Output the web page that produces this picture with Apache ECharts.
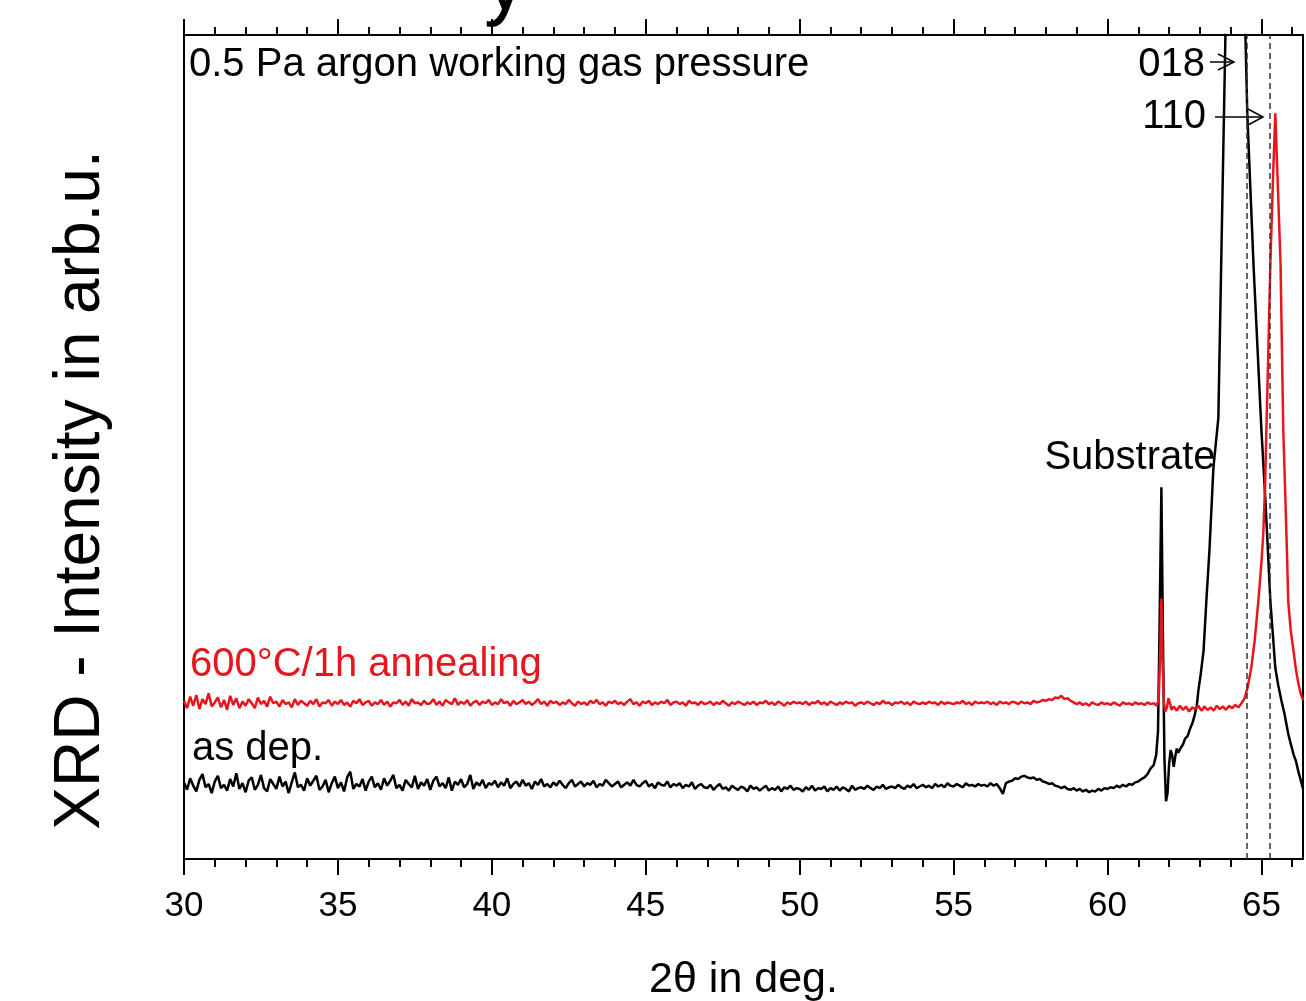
<!DOCTYPE html>
<html>
<head>
<meta charset="utf-8">
<script src="https://cdn.jsdelivr.net/npm/echarts@6/dist/echarts.min.js"></script>
<style>
  html, body { margin: 0; padding: 0; background: #fff; }
  #main { width: 1306px; height: 1001px; }
</style>
</head>
<body>
<div id="main"></div>
<script>
// x grid of the noisy baselines: 30.0 .. 61.4 deg, every 0.1 deg (one row = 1 deg)
var noiseStart = 30, noiseStep = 0.1;

// as deposited (black), baseline part
var asDepBase = [
  9.3, 8.4, 9.8, 8.9, 8.2, 9.6, 10.3, 8.7, 9.1, 8.0,
  9.4, 10.1, 8.6, 9.0, 8.3, 9.7, 8.8, 10.4, 8.5, 9.2,
  8.1, 9.5, 9.9, 8.4, 9.0, 10.2, 8.6, 8.2, 9.7, 9.1,
  8.5, 10.0, 8.8, 9.4, 8.0, 9.3, 10.5, 8.7, 9.0, 8.3,
  9.8, 8.9, 9.5, 10.1, 8.4, 8.8, 9.6, 8.1, 9.2, 10.0,
  8.6, 9.3, 8.2, 9.9, 10.6, 8.5, 9.1, 8.8, 9.7, 8.3,
  9.4, 10.0, 8.7, 9.2, 8.4, 9.8, 8.9, 9.5, 10.2, 8.6,
  9.0, 8.3, 9.6, 9.1, 8.7, 10.1, 8.5, 9.3, 8.9, 9.7,
  8.4, 9.5, 10.0, 8.8, 9.2, 8.6, 9.9, 8.3, 9.4, 9.0,
  9.7, 8.7, 9.1, 10.2, 8.5, 9.3, 8.9, 9.6, 8.6, 9.2,
  9.0, 9.5, 8.7, 9.3, 8.9, 9.8, 8.6, 9.1, 9.4, 8.8,
  9.6, 8.9, 9.2, 8.5, 9.4, 9.0, 9.7, 8.8, 9.1, 8.7,
  9.3, 8.9, 9.5, 9.0, 8.6, 9.2, 9.6, 8.8, 9.1, 9.4,
  8.8, 9.2, 9.0, 9.5, 8.7, 9.1, 8.9, 9.6, 9.2, 8.8,
  9.1, 9.4, 8.7, 9.0, 9.3, 8.9, 9.6, 9.0, 8.8, 9.2,
  9.5, 8.8, 9.1, 8.6, 9.3, 9.0, 8.9, 9.4, 8.7, 9.1,
  8.9, 9.2, 8.6, 9.0, 8.8, 9.3, 8.5, 8.9, 9.1, 8.7,
  8.6, 9.0, 8.4, 8.8, 9.1, 8.5, 8.7, 8.3, 8.9, 8.6,
  8.4, 8.8, 8.6, 8.2, 8.9, 8.5, 8.7, 8.3, 8.6, 8.9,
  8.3, 8.6, 8.4, 8.8, 8.2, 8.7, 8.5, 8.9, 8.4, 8.6,
  8.5, 8.2, 8.7, 8.4, 8.9, 8.3, 8.6, 8.5, 8.8, 8.2,
  8.6, 8.4, 8.8, 8.3, 8.7, 8.5, 8.2, 8.9, 8.4, 8.6,
  8.7, 8.5, 8.9, 8.6, 8.4, 8.8, 8.6, 9.0, 8.5, 8.7,
  8.8, 8.6, 9.0, 8.7, 8.5, 8.9, 8.7, 9.1, 8.6, 8.8,
  9.0, 8.7, 8.9, 8.6, 9.1, 8.8, 9.0, 8.7, 9.2, 8.9,
  8.8, 9.1, 8.9, 8.7, 9.2, 8.9, 9.0, 8.8, 9.1, 8.9,
  9.0, 8.8, 9.2, 8.9, 9.1, 8.6, 7.9, 9.2, 9.4, 9.5,
  9.8, 9.7, 10.0, 10.1, 9.9, 9.8, 9.9, 9.6, 9.7, 9.4,
  9.3, 9.1, 9.2, 8.9, 8.8, 8.6, 8.8, 8.5, 8.4, 8.6,
  8.3, 8.5, 8.2, 8.4, 8.1, 8.3, 8.2, 8.5, 8.3, 8.6,
  8.5, 8.7, 8.6, 8.9, 8.7, 9.0, 8.8, 9.1, 9.0, 9.3,
  9.4, 9.7, 9.9, 10.3, 11.0
];
// as deposited, substrate + 018 peak region [2theta, intensity]
var asDepPeak = [
  [61.5, 11.4], [61.58, 12.6], [61.64, 15.5], [61.69, 28], [61.75, 45.1], [61.8, 27],
  [61.85, 12], [61.9, 7.0], [61.95, 8.0], [62.0, 11.5], [62.05, 13.2], [62.1, 12.6],
  [62.15, 11.2], [62.2, 12.4], [62.25, 13.4], [62.3, 12.9], [62.38, 13.5], [62.45, 13.9],
  [62.52, 14.6], [62.6, 14.9], [62.68, 15.8], [62.75, 16.4], [62.82, 17.3], [62.9, 18.6],
  [62.95, 20.4], [63.03, 22.5], [63.12, 25.3], [63.21, 31.3], [63.31, 37.4], [63.44, 47.5],
  [63.6, 53.5], [63.83, 100], [64.02, 142], [64.48, 100], [64.54, 90.5], [64.74, 72.3],
  [65.0, 52.0], [65.13, 43.5], [65.29, 31.3], [65.38, 26.8], [65.45, 23.2], [65.55, 21.0],
  [65.65, 19.2], [65.75, 17.6], [65.87, 15.2], [65.95, 14.0], [66.05, 12.6], [66.12, 11.9],
  [66.2, 10.6], [66.28, 9.5], [66.35, 8.5]
];

// 600 C / 1 h annealing (red), baseline part
var annealBase = [
  19.2, 18.3, 19.7, 18.6, 19.9, 18.2, 19.4, 18.8, 20.1, 18.5,
  19.0, 19.6, 18.4, 19.3, 18.1, 19.8, 18.7, 19.5, 18.3, 19.1,
  18.6, 19.4, 18.9, 18.3, 19.6, 18.8, 19.2, 18.5, 19.7, 18.9,
  19.1, 18.5, 19.3, 18.8, 19.0, 18.4, 19.4, 18.7, 19.2, 18.9,
  18.6, 19.2, 18.8, 19.4, 18.5, 19.0, 18.9, 19.3, 18.6, 19.1,
  18.8, 19.3, 18.7, 19.0, 18.5, 19.2, 18.9, 19.4, 18.7, 19.0,
  19.2, 18.6, 19.0, 18.8, 19.3, 18.7, 19.1, 18.5, 19.0, 18.9,
  19.3, 18.7, 19.1, 18.6, 19.4, 18.9, 19.0, 18.7, 19.2, 18.8,
  18.9, 19.4, 18.7, 19.1, 18.6, 19.3, 19.0, 18.8, 19.5, 18.7,
  19.1, 18.8, 19.3, 18.6, 19.0, 19.2, 18.7, 19.1, 18.9, 19.3,
  18.7, 19.0, 18.8, 19.4, 18.9, 19.1, 18.6, 19.2, 18.8, 19.0,
  19.3, 18.8, 19.1, 18.7, 19.0, 19.4, 18.8, 19.1, 18.6, 19.2,
  18.9, 19.1, 18.7, 19.0, 18.8, 19.3, 18.9, 18.6, 19.1, 18.8,
  19.0, 18.7, 19.2, 18.9, 19.3, 18.8, 19.0, 18.6, 19.1, 18.9,
  19.2, 18.8, 19.0, 18.7, 19.1, 19.4, 18.8, 19.0, 18.6, 19.1,
  18.9, 19.2, 18.7, 19.0, 18.8, 19.1, 18.9, 19.3, 18.7, 19.0,
  19.1, 18.8, 19.0, 18.6, 19.2, 18.9, 19.0, 18.7, 19.1, 18.8,
  18.9, 19.1, 18.7, 19.0, 18.8, 19.2, 18.9, 18.6, 19.0, 18.8,
  19.1, 18.9, 18.7, 19.0, 18.8, 19.1, 18.7, 19.0, 18.9, 19.2,
  18.8, 19.0, 18.7, 19.1, 18.9, 18.6, 19.0, 18.8, 19.1, 18.9,
  19.0, 18.8, 19.1, 18.7, 19.0, 18.9, 19.2, 18.8, 19.0, 18.7,
  19.1, 18.9, 18.7, 19.0, 18.8, 19.1, 18.9, 19.0, 18.6, 18.9,
  19.0, 18.8, 19.1, 18.9, 18.7, 19.0, 18.8, 19.2, 18.9, 19.0,
  18.7, 19.0, 18.9, 19.1, 18.8, 19.0, 18.7, 19.1, 18.9, 18.8,
  19.0, 18.8, 19.1, 18.9, 19.0, 18.7, 19.1, 18.8, 19.0, 18.9,
  18.8, 19.0, 18.9, 19.2, 18.8, 19.0, 18.7, 19.1, 18.9, 19.0,
  18.9, 19.1, 18.8, 19.0, 18.7, 19.1, 18.9, 19.0, 18.8, 19.1,
  19.0, 18.8, 19.1, 18.9, 19.0, 18.8, 19.2, 19.0, 19.1, 19.3,
  19.2, 19.4, 19.3, 19.6, 19.5, 19.8, 19.4, 19.5, 19.2, 19.0,
  18.8, 19.0, 18.7, 18.9, 18.6, 19.0, 18.8, 18.7, 19.0, 18.8,
  18.9, 18.7, 19.0, 18.8, 18.6, 19.0, 18.8, 18.9, 18.7, 19.0,
  18.8, 18.9, 18.7, 19.0, 18.8
];
// annealed, substrate + 110 peak region
var annealPeak = [
  [61.5, 18.9], [61.6, 18.6], [61.66, 19.4], [61.71, 24.5], [61.75, 31.6], [61.79, 24.0],
  [61.83, 19.0], [61.88, 17.9], [61.93, 18.4], [61.98, 19.5], [62.03, 18.9], [62.08, 18.1],
  [62.15, 18.5], [62.25, 18.0], [62.35, 18.6], [62.45, 18.1], [62.55, 18.5], [62.65, 17.9],
  [62.75, 18.4], [62.85, 18.2], [62.95, 18.6], [63.05, 18.0], [63.15, 18.5], [63.25, 18.1],
  [63.35, 18.4], [63.45, 18.0], [63.55, 18.6], [63.65, 18.2], [63.75, 18.5], [63.85, 18.1],
  [63.95, 18.6], [64.05, 18.3], [64.15, 18.7], [64.25, 18.4], [64.35, 18.9], [64.45, 19.5],
  [64.55, 20.8], [64.67, 23.2], [64.78, 26.5], [64.9, 31.3], [65.0, 36.0], [65.06, 39.5],
  [65.12, 45.5], [65.16, 52.0], [65.22, 61], [65.29, 72.3], [65.37, 82], [65.45, 90.5],
  [65.53, 82], [65.62, 72.3], [65.67, 61], [65.71, 52.0], [65.78, 43.5], [65.83, 37],
  [65.87, 31.3], [65.95, 27.8], [66.04, 25.3], [66.12, 23.0], [66.2, 21.3], [66.28, 20.0],
  [66.35, 19.3]
];

// reference peak positions (dashed lines)
var refLines = [64.51, 65.26];

var majorTicks = [30, 35, 40, 45, 50, 55, 60, 65];
var minorTicks = [31, 32, 33, 34, 36, 37, 38, 39, 41, 42, 43, 44, 46, 47, 48, 49,
  51, 52, 53, 54, 56, 57, 58, 59, 61, 62, 63, 64, 66];

var xMin = 30, xMax = 66.35;
var FONT = 'Liberation Sans, Arial, sans-serif';

function joinSpectrum(base, peak) {
  var out = base.map(function (v, i) {
    return [+(noiseStart + i * noiseStep).toFixed(2), v];
  });
  return out.concat(peak);
}

function xAxisDef(pos, ticks, len, withLabel) {
  return {
    type: 'value', position: pos, min: xMin, max: xMax, interval: 5,
    axisLine: { show: true, onZero: false, lineStyle: { color: '#000', width: 2 } },
    axisTick: { show: true, customValues: ticks, length: len, lineStyle: { color: '#000', width: 2 } },
    axisLabel: withLabel
      ? { show: true, customValues: majorTicks, fontSize: 35, color: '#000', fontFamily: FONT, margin: 30 }
      : { show: false },
    splitLine: { show: false }
  };
}

var myChart = echarts.init(document.getElementById('main'));

var bottomAxis = xAxisDef('bottom', majorTicks, 16, true);
bottomAxis.name = '2\u03b8 in deg.';
bottomAxis.nameLocation = 'middle';
bottomAxis.nameGap = 100;
bottomAxis.nameTextStyle = { fontSize: 43, color: '#000', fontFamily: FONT };

var option = {
  animation: false,
  backgroundColor: '#fff',
  grid: { left: 184, right: 3, top: 35, bottom: 142, containLabel: false, outerBoundsMode: 'none' },
  xAxis: [
    bottomAxis,
    xAxisDef('bottom', minorTicks, 8, false),
    xAxisDef('top', majorTicks, 16, false),
    xAxisDef('top', minorTicks, 8, false)
  ],
  yAxis: [
    {
      type: 'value', position: 'left', min: 0, max: 100,
      axisLine: { show: true, lineStyle: { color: '#000', width: 2 } },
      axisTick: { show: false }, axisLabel: { show: false }, splitLine: { show: false }
    },
    {
      type: 'value', position: 'right', min: 0, max: 100,
      axisLine: { show: true, lineStyle: { color: '#000', width: 2 } },
      axisTick: { show: false }, axisLabel: { show: false }, splitLine: { show: false }
    }
  ],
  series: [
    {
      name: 'as dep.',
      type: 'line',
      xAxisIndex: 0, yAxisIndex: 0,
      showSymbol: false,
      clip: true,
      lineStyle: { color: '#000', width: 2.5 },
      data: joinSpectrum(asDepBase, asDepPeak),
      markLine: {
        silent: true,
        symbol: ['none', 'none'],
        label: { show: false },
        lineStyle: { color: '#333', type: [6, 4], width: 1.5 },
        data: refLines.map(function (v) { return { xAxis: v }; })
      }
    },
    {
      name: '600°C/1h annealing',
      type: 'line',
      xAxisIndex: 0, yAxisIndex: 0,
      showSymbol: false,
      clip: true,
      lineStyle: { color: '#e8161c', width: 2.5 },
      data: joinSpectrum(annealBase, annealPeak)
    }
  ],
  graphic: [
    { type: 'text', x: 484, y: 28, style: { text: 'y', fontSize: 85, fontFamily: FONT, fill: '#000', align: 'left', verticalAlign: 'bottom' } },
    { type: 'text', x: 81, y: 490, rotation: Math.PI / 2,
      style: { text: 'XRD - Intensity in arb.u.', fontSize: 64, fontFamily: FONT, fill: '#000', align: 'center', verticalAlign: 'middle' } },
    { type: 'text', x: 189, y: 65, style: { text: '0.5 Pa argon working gas pressure', fontSize: 40, fontFamily: FONT, fill: '#000', align: 'left', verticalAlign: 'middle' } },
    { type: 'text', x: 1205, y: 65, style: { text: '018', fontSize: 40, fontFamily: FONT, fill: '#000', align: 'right', verticalAlign: 'middle' } },
    { type: 'text', x: 1206, y: 117, style: { text: '110', fontSize: 40, fontFamily: FONT, fill: '#000', align: 'right', verticalAlign: 'middle' } },
    { type: 'text', x: 1130, y: 458, style: { text: 'Substrate', fontSize: 40, fontFamily: FONT, fill: '#000', align: 'center', verticalAlign: 'middle' } },
    { type: 'text', x: 190, y: 665, style: { text: '600°C/1h annealing', fontSize: 40, fontFamily: FONT, fill: '#e8161c', align: 'left', verticalAlign: 'middle' } },
    { type: 'text', x: 192, y: 749, style: { text: 'as dep.', fontSize: 40, fontFamily: FONT, fill: '#000', align: 'left', verticalAlign: 'middle' } },
    // arrows
    { type: 'line', shape: { x1: 1210, y1: 62, x2: 1234, y2: 62 }, style: { stroke: '#000', lineWidth: 1.5 } },
    { type: 'polyline', shape: { points: [[1218, 54], [1234, 62], [1218, 70]] }, style: { stroke: '#000', fill: null, lineWidth: 1.5 } },
    { type: 'line', shape: { x1: 1215, y1: 117, x2: 1263, y2: 117 }, style: { stroke: '#000', lineWidth: 1.5 } },
    { type: 'polyline', shape: { points: [[1248, 109], [1263, 117], [1248, 125]] }, style: { stroke: '#000', fill: null, lineWidth: 1.5 } }
  ]
};

myChart.setOption(option);
</script>
</body>
</html>
